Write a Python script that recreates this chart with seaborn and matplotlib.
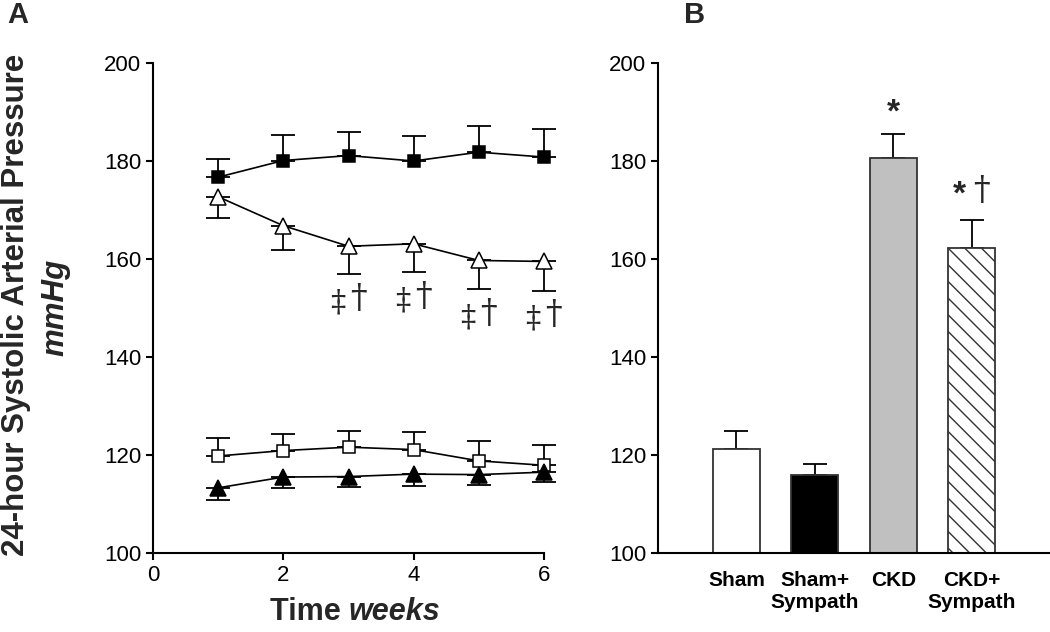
import matplotlib
matplotlib.use("Agg")
import matplotlib.pyplot as plt
import seaborn as sns
import pandas as pd
import numpy as np

# panel A: weekly systolic pressure (mean, one-sided SEM)
weeks = [1, 2, 3, 4, 5, 6]
ckd = [176.7, 180.1, 181.1, 180.0, 181.8, 180.8]
ckd_err = [3.7, 5.2, 4.9, 5.0, 5.3, 5.7]
ckd_symp = [172.7, 166.8, 162.6, 163.1, 159.7, 159.5]
ckd_symp_err = [4.3, 4.9, 5.6, 5.8, 5.9, 6.1]
sham = [119.8, 120.9, 121.6, 121.1, 118.8, 117.9]
sham_err = [3.6, 3.4, 3.3, 3.5, 4.0, 4.1]
sham_symp = [113.3, 115.5, 115.6, 116.1, 116.0, 116.5]
sham_symp_err = [2.4, 2.3, 2.2, 2.4, 2.2, 2.0]

# significance marks under the CKD+Sympath line
sig_weeks = [3, 4, 5, 6]
sig_y = [151.6, 152.0, 148.4, 148.2]

# panel B: 6-week average
groups = ["Sham", "Sham+\nSympath", "CKD", "CKD+\nSympath"]
bar_vals = [121.3, 115.9, 180.7, 162.3]
bar_err = [3.6, 2.2, 4.8, 5.6]
bar_colors = ["white", "black", "#c0c0c0", "white"]

sns.set_style("ticks")
plt.rcParams["font.family"] = ["Liberation Sans", "DejaVu Sans"]
plt.rcParams["axes.linewidth"] = 1.5
plt.rcParams["xtick.major.width"] = 1.5
plt.rcParams["ytick.major.width"] = 1.5
plt.rcParams["xtick.major.size"] = 5
plt.rcParams["ytick.major.size"] = 5
plt.rcParams["xtick.color"] = "black"
plt.rcParams["ytick.color"] = "black"
plt.rcParams["axes.edgecolor"] = "black"
plt.rcParams["hatch.linewidth"] = 1.0

dagger_font = ["DejaVu Serif", "Liberation Serif"]

fig = plt.figure(figsize=(10.5, 6.32), dpi=100)
axA = fig.add_axes([153 / 1050, 79 / 632, 391 / 1050, 490 / 632])
axB = fig.add_axes([658 / 1050, 79 / 632, 392 / 1050, 490 / 632])

series = [
    (ckd, ckd_err, "s", "black", "up"),
    (ckd_symp, ckd_symp_err, "^", "white", "down"),
    (sham, sham_err, "s", "white", "up"),
    (sham_symp, sham_symp_err, "^", "black", "down"),
]
for vals, err, mk, fc, side in series:
    zeros = np.zeros(len(err))
    yerr = [zeros, err] if side == "up" else [err, zeros]
    axA.errorbar(weeks, vals, yerr=yerr, fmt="none", ecolor="black",
                 elinewidth=1.3, capsize=8.5, capthick=1.3, zorder=2, clip_on=False)
    ms = 9.0 if mk == "s" else 11.0
    sns.lineplot(x=weeks, y=vals, ax=axA, color="black", linewidth=1.2,
                 marker=mk, markersize=ms, markerfacecolor=fc,
                 markeredgecolor="black", markeredgewidth=1.1, zorder=3, clip_on=False)

for wk, y in zip(sig_weeks, sig_y):
    axA.text(wk - 0.17, y - 0.5, "\u2021", ha="center", va="center", fontsize=22,
             family=dagger_font)
    axA.text(wk + 0.15, y + 0.3, "\u2020", ha="center", va="center", fontsize=24,
             family=dagger_font)

axA.set_xlim(0, 6)
axA.set_ylim(100, 200)
axA.set_xticks([0, 2, 4, 6])
axA.set_yticks([100, 120, 140, 160, 180, 200])
axA.tick_params(labelsize=16, direction="out")
axA.set_xlabel("")
axA.set_ylabel("")
sns.despine(ax=axA)

df = pd.DataFrame({"group": groups, "sbp": bar_vals})
sns.barplot(data=df, x="group", y="sbp", hue="group", palette=bar_colors,
            width=0.6, edgecolor="#333333", linewidth=1.3, legend=False, ax=axB,
            zorder=2)
axB.patches[3].set_hatch("\\\\")
axB.errorbar(range(len(groups)), bar_vals, yerr=[np.zeros(4), bar_err], fmt="none",
             ecolor="black", elinewidth=1.3, capsize=8.5, capthick=1.3, zorder=1)
axB.set_xlim(-1, 4)
axB.set_ylim(100, 200)
axB.set_yticks([100, 120, 140, 160, 180, 200])
axB.tick_params(axis="y", labelsize=16, direction="out")
axB.tick_params(axis="x", length=0, labelsize=15, pad=13)
for lab in axB.get_xticklabels():
    lab.set_fontweight("bold")
axB.set_xlabel("")
axB.set_ylabel("")
sns.despine(ax=axB)

axB.text(2.0, 189.8, "*", ha="center", va="center", fontsize=24, fontweight="bold")
axB.text(2.85, 173.0, "*", ha="center", va="center", fontsize=24, fontweight="bold")
axB.text(3.12, 173.8, "\u2020", ha="center", va="center", fontsize=24,
         family=dagger_font)

# axis titles and panel letters
fig.text(16 / 1050, 1 - 305 / 632, "24-hour Systolic Arterial Pressure", rotation=90,
         ha="center", va="center", fontsize=22.5, fontweight="bold")
fig.text(55 / 1050, 1 - 307 / 632, "mmHg", rotation=90, ha="center", va="center",
         fontsize=22.5, fontweight="bold", style="italic")
fig.text(349 / 1050, 1 - 612 / 632, "Time ", ha="right", va="center",
         fontsize=22, fontweight="bold")
fig.text(349 / 1050, 1 - 612 / 632, "weeks", ha="left", va="center",
         fontsize=22, fontweight="bold", style="italic")
fig.text(18 / 1050, 1 - 15 / 632, "A", ha="center", va="center", fontsize=21, fontweight="bold")
fig.text(695 / 1050, 1 - 15 / 632, "B", ha="center", va="center", fontsize=21, fontweight="bold")

fig.savefig("out.png", dpi=100)
